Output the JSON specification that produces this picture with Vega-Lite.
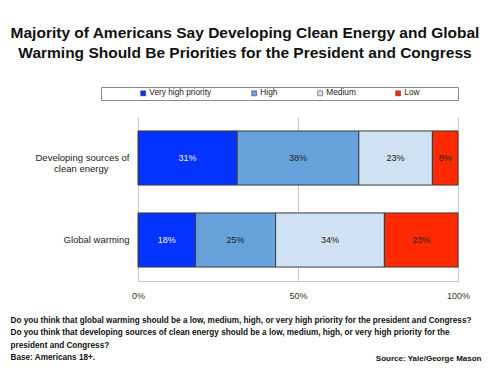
{
  "$schema": "https://vega.github.io/schema/vega-lite/v6.json",
  "width": 320,
  "height": 164,
  "autosize": {"type": "none"},
  "padding": {"left": 138, "top": 117, "right": 32, "bottom": 91},
  "background": "#ffffff",
  "title": {
    "text": ["Majority of Americans Say Developing Clean Energy and Global", "Warming Should Be Priorities for the President and Congress"],
    "anchor": "middle",
    "dx": -53,
    "fontSize": 15.5,
    "lineHeight": 20,
    "font": "Liberation Sans",
    "fontWeight": "bold",
    "color": "#111111",
    "offset": 25
  },
  "data": {
    "values": [
      {"item": "Developing sources of clean energy", "level": "Very high priority", "rank": 1, "value": 0.31},
      {"item": "Developing sources of clean energy", "level": "High", "rank": 2, "value": 0.38},
      {"item": "Developing sources of clean energy", "level": "Medium", "rank": 3, "value": 0.23},
      {"item": "Developing sources of clean energy", "level": "Low", "rank": 4, "value": 0.08},
      {"item": "Global warming", "level": "Very high priority", "rank": 1, "value": 0.18},
      {"item": "Global warming", "level": "High", "rank": 2, "value": 0.25},
      {"item": "Global warming", "level": "Medium", "rank": 3, "value": 0.34},
      {"item": "Global warming", "level": "Low", "rank": 4, "value": 0.23}
    ]
  },
  "encoding": {
    "y": {
      "field": "item",
      "type": "nominal",
      "sort": ["Developing sources of clean energy", "Global warming"],
      "scale": {"paddingInner": 0.34, "paddingOuter": 0.17},
      "axis": {
        "title": "Source: Yale/George Mason",
        "titleAngle": 0,
        "titleAlign": "right",
        "titleBaseline": "middle",
        "titleX": 343,
        "titleY": 241,
        "titleFontSize": 8,
        "titleFontWeight": "bold",
        "titleFont": "Liberation Sans",
        "titleColor": "#111111",
        "labelExpr": "datum.value == 'Developing sources of clean energy' ? ['Developing sources of', 'clean energy\\u2800\\u2800\\u2800'] : datum.value",
        "labelFont": "Liberation Sans",
        "labelFontSize": 9.5,
        "labelColor": "#222222",
        "labelPadding": 9,
        "labelLineHeight": 11,
        "ticks": false,
        "domainColor": "#c8c8c8"
      }
    },
    "x": {
      "field": "value",
      "type": "quantitative",
      "stack": "zero",
      "scale": {"domain": [0, 1]},
      "axis": {
        "values": [0, 0.5, 1],
        "format": ".0%",
        "grid": true,
        "gridColor": "#c8c8c8",
        "domainColor": "#c8c8c8",
        "ticks": false,
        "labelFont": "Liberation Sans",
        "labelFontSize": 9,
        "labelColor": "#333333",
        "labelPadding": 10,
        "labelFlush": false,
        "title": [
          "Do you think that global warming should be a low, medium, high, or very high priority for the president and Congress?",
          "Do you think that developing sources of clean energy should be a low, medium, high, or very high priority for the",
          "president and Congress?",
          "Base: Americans 18+."
        ],
        "titleAnchor": "start",
        "titleAlign": "left",
        "titleBaseline": "top",
        "titleX": -128,
        "titleY": 35,
        "titleFontSize": 8.2,
        "titleLineHeight": 12.5,
        "titleFontWeight": "bold",
        "titleFont": "Liberation Sans",
        "titleColor": "#111111"
      }
    },
    "order": {"field": "rank", "type": "quantitative"}
  },
  "layer": [
    {
      "mark": {"type": "bar", "stroke": "#3a3a3a", "strokeWidth": 1},
      "encoding": {
        "color": {
          "field": "level",
          "type": "nominal",
          "scale": {
            "domain": ["Very high priority", "High", "Medium", "Low"],
            "range": ["#0433ff", "#67a1dc", "#d0e1f3", "#ff2a00"]
          },
          "legend": {
            "orient": "none",
            "legendX": -37,
            "legendY": -30,
            "direction": "horizontal",
            "columns": 4,
            "columnPadding": 38,
            "title": " ",
            "titleOrient": "left",
            "titlePadding": 36,
            "titleFontSize": 9,
            "padding": 2,
            "strokeColor": "#8a8a8a",
            "fillColor": "#ffffff",
            "symbolType": "square",
            "symbolSize": 25,
            "symbolStrokeColor": "#333333",
            "symbolStrokeWidth": 0.5,
            "labelOffset": 2,
            "labelFont": "Liberation Sans",
            "labelFontSize": 8.3,
            "labelColor": "#222222",
            "labelExpr": "datum.label == 'Low' ? 'Low\\u2800\\u2800\\u2800\\u2800\\u2800\\u2800' : datum.label"
          }
        }
      }
    },
    {
      "mark": {"type": "text", "font": "Liberation Sans", "fontSize": 9},
      "encoding": {
        "x": {"field": "value", "type": "quantitative", "stack": "zero", "bandPosition": 0.5},
        "text": {"field": "value", "type": "quantitative", "format": ".0%"},
        "color": {
          "condition": {"test": "datum.level == 'Very high priority'", "value": "#eef2ff"},
          "value": "#222222"
        }
      }
    }
  ],
  "config": {
    "view": {"stroke": null},
    "font": "Liberation Sans"
  }
}
